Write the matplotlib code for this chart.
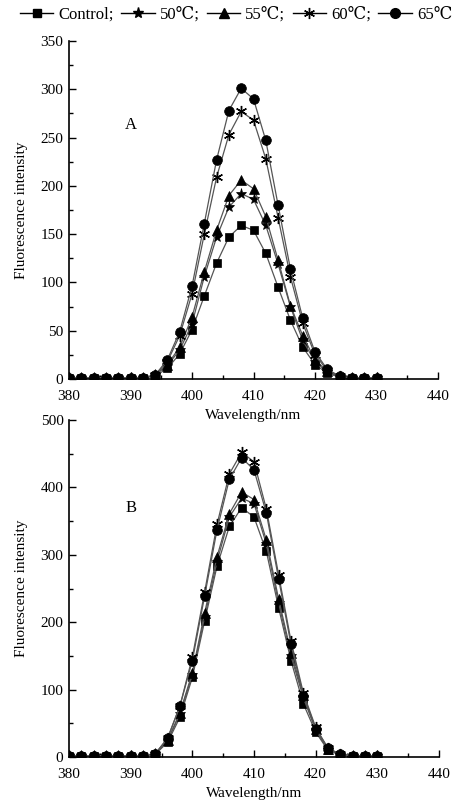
import matplotlib
matplotlib.use("Agg")
import matplotlib.pyplot as plt
from matplotlib.ticker import MultipleLocator
from matplotlib.lines import Line2D

plt.rcParams['font.family'] = ['Liberation Serif', 'DejaVu Serif']

wavelength = [380, 382, 384, 386, 388, 390, 392, 394, 396, 398, 400, 402, 404, 406,
              408, 410, 412, 414, 416, 418, 420, 422, 424, 426, 428, 430]

# Panel A
a_control = [1, 1, 1, 1, 1, 1, 1, 3, 11, 26, 51, 86, 120, 147, 159, 154, 130, 95, 61, 33, 15, 6, 2, 1, 1, 1]
a_50 = [1, 1, 1, 1, 1, 1, 1, 4, 14, 30, 57, 106, 147, 178, 192, 186, 159, 119, 75, 40, 18, 7, 2, 1, 1, 1]
a_55 = [1, 1, 1, 1, 1, 1, 1, 4, 15, 33, 64, 111, 154, 190, 206, 197, 168, 123, 76, 45, 20, 8, 2, 1, 1, 1]
a_60 = [1, 1, 1, 1, 1, 1, 1, 4, 18, 45, 88, 150, 209, 253, 277, 268, 228, 167, 106, 58, 25, 9, 3, 1, 1, 1]
a_65 = [1, 1, 1, 1, 1, 1, 1, 4, 20, 49, 96, 161, 227, 278, 301, 290, 247, 180, 114, 63, 28, 10, 3, 1, 1, 1]

# Panel B
b_control = [2, 2, 2, 2, 2, 2, 2, 4, 22, 59, 118, 202, 283, 342, 370, 356, 305, 221, 143, 79, 37, 10, 3, 2, 2, 2]
b_50 = [2, 2, 2, 2, 2, 2, 2, 4, 24, 64, 122, 208, 290, 356, 384, 376, 316, 228, 150, 88, 40, 11, 3, 2, 2, 2]
b_55 = [2, 2, 2, 2, 2, 2, 2, 4, 25, 66, 125, 214, 297, 361, 393, 382, 322, 234, 155, 92, 42, 12, 3, 2, 2, 2]
b_60 = [2, 2, 2, 2, 2, 2, 2, 5, 28, 76, 148, 245, 345, 420, 452, 438, 368, 270, 172, 95, 44, 13, 4, 2, 2, 2]
b_65 = [2, 2, 2, 2, 2, 2, 2, 5, 28, 76, 143, 239, 337, 412, 444, 426, 362, 264, 167, 91, 42, 13, 4, 2, 2, 2]

labels = ['Control;', '50\u2103;', '55\u2103;', '60\u2103;', '65\u2103']
markers = ['s', '*', '^', (6, 2, 0), 'o']
msizes = [6, 8, 7, 8, 7]

fig = plt.figure(figsize=(4.54, 8.06), dpi=100)
axA = fig.add_axes([69/454, 1 - 379/806, 369/454, 338/806])
axB = fig.add_axes([69/454, 1 - 757/806, 370/454, 337/806])
axB.patch.set_alpha(0)
axA.set_zorder(2)
axA.patch.set_alpha(0)

def draw(ax, series, ymax, ymajor, yminor, letter, letter_y):
    for vals, m, ms in zip(series, markers, msizes):
        ax.plot(wavelength, vals, color='#555555', lw=0.9, marker=m, ms=ms,
                mfc='black', mec='black', mew=1.0 if m == (6, 2, 0) else 0.5)
    ax.set_xlim(380, 440)
    ax.set_ylim(0, ymax)
    ax.xaxis.set_major_locator(MultipleLocator(10))
    ax.xaxis.set_minor_locator(MultipleLocator(5))
    ax.yaxis.set_major_locator(MultipleLocator(ymajor))
    ax.yaxis.set_minor_locator(MultipleLocator(yminor))
    ax.tick_params(which='both', direction='in', labelsize=11, width=1.0)
    ax.tick_params(which='major', length=5)
    ax.tick_params(which='minor', length=3)
    ax.tick_params(axis='x', which='major', pad=8)
    ax.tick_params(axis='y', which='major', pad=4)
    for s in ['top', 'right']:
        ax.spines[s].set_visible(False)
    for s in ['left', 'bottom']:
        ax.spines[s].set_linewidth(1.2)
    ax.set_xlabel('Wavelength/nm', fontsize=11, labelpad=4)
    ax.set_ylabel('Fluorescence intensity', fontsize=11, labelpad=9)
    ax.text(390, letter_y, letter, fontsize=12, ha='center', va='center')

draw(axA, [a_control, a_50, a_55, a_60, a_65], 350, 50, 25, 'A', 263)
draw(axB, [b_control, b_50, b_55, b_60, b_65], 500, 100, 50, 'B', 370)

handles = [Line2D([0], [0], color='black', lw=1.0, marker=m, ms=ms, mfc='black', mec='black')
           for m, ms in zip(markers, msizes)]
fig.legend(handles, labels, loc='center', bbox_to_anchor=(0.52, 1 - 15/806), ncol=5,
           frameon=False, fontsize=12, handlelength=2.0, handletextpad=0.3,
           columnspacing=0.45, borderpad=0)

fig.savefig('out.png', dpi=100)
